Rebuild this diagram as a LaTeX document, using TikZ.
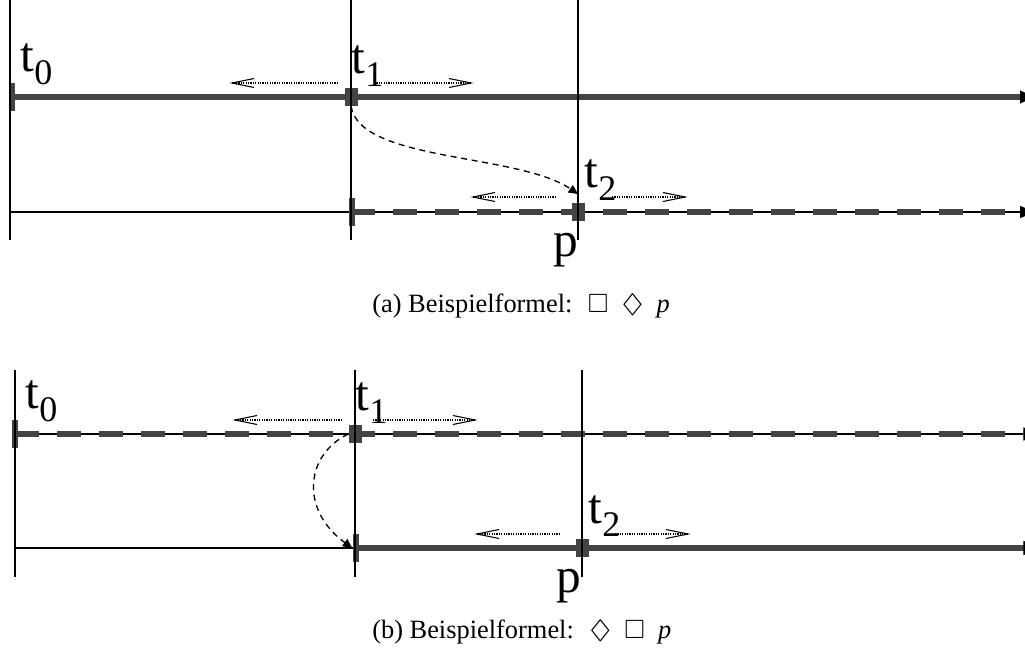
\documentclass[tikz,border=0pt]{standalone}
\usepackage{fontspec}
\usepackage{amssymb}
\setmainfont{Liberation Serif}
\usetikzlibrary{arrows.meta}
\definecolor{lg}{RGB}{68,68,68}
\newcommand{\tlab}[1]{{\fontsize{37pt}{37pt}\selectfont t\raisebox{-10pt}{\fontsize{27pt}{27pt}\selectfont #1}}}
\newcommand{\plab}{{\fontsize{37pt}{37pt}\selectfont p}}
\newcommand{\dia}{\scalebox{1.25}[1]{$\Diamond$}}
% dotted arrow from #1 to #2, #3 = -1 if pointing right, 1 if pointing left
\newcommand{\darrow}[3]{\draw[dotl] (#1) -- (#2); \draw[barb] (#2) ++(#3*22,-4.5) -- (#2) -- ++(#3*22,4.5);}
\begin{document}
\begin{tikzpicture}[x=0.75pt,y=-0.75pt,
  vline/.style={line width=0.9pt,draw=black},
  thinl/.style={line width=1.1pt,draw=black},
  thickl/.style={line width=4.5pt,draw=lg},
  dashl/.style={line width=4.5pt,draw=lg,dash pattern=on 18pt off 13.5pt},
  endtip/.style={-{Triangle[length=11.25pt,width=9pt,color=black,fill=black]}},
  endtipb/.style={-{Triangle[length=12.4pt,width=9.75pt,color=black,fill=black]}},
  mytick/.style={fill=lg,inner sep=0pt,minimum width=4.5pt,minimum height=21pt},
  sq/.style={fill=lg,inner sep=0pt,minimum width=9.75pt,minimum height=13.5pt},
  dotl/.style={line width=0.9pt,dash pattern=on 0.9pt off 0.9pt},
  barb/.style={line width=0.8pt,line join=miter},
  curvearrow/.style={line width=1pt,dash pattern=on 4.5pt off 3.5pt,-{Triangle[length=7pt,width=6.5pt]}},
  lab/.style={inner sep=0pt,anchor=base west},
  captxt/.style={inner sep=0pt,anchor=base west,font=\fontsize{19.8pt}{23pt}\selectfont}
]
\useasboundingbox (0,0) rectangle (1025,654);
\clip (0,0) rectangle (1025,654);
%% ---------- panel (a) ----------
\coordinate (a0t) at (10,0);   \coordinate (a0b) at (10,240);
\coordinate (a1t) at (351,0);  \coordinate (a1b) at (351,240);
\coordinate (a2t) at (578,0);  \coordinate (a2b) at (578,240);
\coordinate (aL1s) at (10,97); \coordinate (aL1e) at (1035,97);
\coordinate (aL2s) at (10,212); \coordinate (aL2m) at (351,212);
\coordinate (aL2d) at (1020,212); \coordinate (aL2e) at (1035,212);
\draw[thickl,endtip] (aL1s) -- (aL1e);
\draw[thinl,endtip] (aL2s) -- (aL2e);
\draw[dashl] (aL2m) -- (aL2d);
\node[mytick] (ta0) at (11.5,97) {};
\node[sq] (sa1) at (351,97) {};
\node[mytick] (ta1) at (352,212) {};
\node[sq] (sa2) at (578,212) {};
\coordinate (tipa) at (578,194);
\draw[curvearrow] (sa1.south) .. controls (360,162) and (518,153) .. (tipa);
% dotted arrows
\coordinate (da1) at (338,83); \coordinate (da1e) at (232,83);
\coordinate (da2) at (374,83); \coordinate (da2e) at (471,83);
\coordinate (da3) at (556,197); \coordinate (da3e) at (473,197);
\coordinate (da4) at (612,197); \coordinate (da4e) at (685,197);
\darrow{da1}{da1e}{1}
\darrow{da2}{da2e}{-1}
\darrow{da3}{da3e}{1}
\darrow{da4}{da4e}{-1}
\draw[vline] (a0t) -- (a0b);
\draw[vline] (a1t) -- (a1b);
\draw[vline] (a2t) -- (a2b);
\node[lab] (lt0a) at (20.5,71) {\tlab{0}};
\node[lab] (lt1a) at (351.5,73) {\tlab{1}};
\node[lab] (lt2a) at (584.5,187) {\tlab{2}};
\node[lab] (lpa) at (553,256) {\plab};
\node[captxt] (capa) at (372,312) {(a) Beispielformel: \ $\Box$ \ \dia{} \ \textit{p}};
%% ---------- panel (b) ----------
\coordinate (b0t) at (15,370);   \coordinate (b0b) at (15,577);
\coordinate (b1t) at (355,370);  \coordinate (b1b) at (355,577);
\coordinate (b2t) at (582,370);  \coordinate (b2b) at (582,577);
\coordinate (bL1s) at (15,434); \coordinate (bL1d) at (1023.5,434); \coordinate (bL1e) at (1040,434);
\coordinate (bL2s) at (15,548); \coordinate (bL2m) at (355,548); \coordinate (bL2e) at (1040,548);
\draw[thinl,endtipb] (bL1s) -- (bL1e);
\draw[dashl] (bL1s) -- (bL1d);
\draw[thinl] (bL2s) -- (bL2m);
\draw[thickl,endtipb] (bL2m) -- (bL2e);
\node[mytick] (tb0) at (15,434) {};
\node[sq] (sb1) at (355,434) {};
\node[mytick] (tb1) at (355.5,548) {};
\node[sq] (sb2) at (582,548) {};
\draw[curvearrow] (sb1.west) .. controls (305,455) and (300,510) .. (tb1.west);
\coordinate (db1) at (342,420); \coordinate (db1e) at (235,420);
\coordinate (db2) at (373,420); \coordinate (db2e) at (475,420);
\coordinate (db3) at (560,534); \coordinate (db3e) at (477,534);
\coordinate (db4) at (615,534); \coordinate (db4e) at (688,534);
\darrow{db1}{db1e}{1}
\darrow{db2}{db2e}{-1}
\darrow{db3}{db3e}{1}
\darrow{db4}{db4e}{-1}
\draw[vline] (b0t) -- (b0b);
\draw[vline] (b1t) -- (b1b);
\draw[vline] (b2t) -- (b2b);
\node[lab] (lt0b) at (25.5,408) {\tlab{0}};
\node[lab] (lt1b) at (355.5,410) {\tlab{1}};
\node[lab] (lt2b) at (588.5,523) {\tlab{2}};
\node[lab] (lpb) at (556,592) {\plab};
\node[captxt] (capb) at (372,638) {(b) Beispielformel: \ \dia{} \ $\Box$ \ \textit{p}};
\end{tikzpicture}
\end{document}
